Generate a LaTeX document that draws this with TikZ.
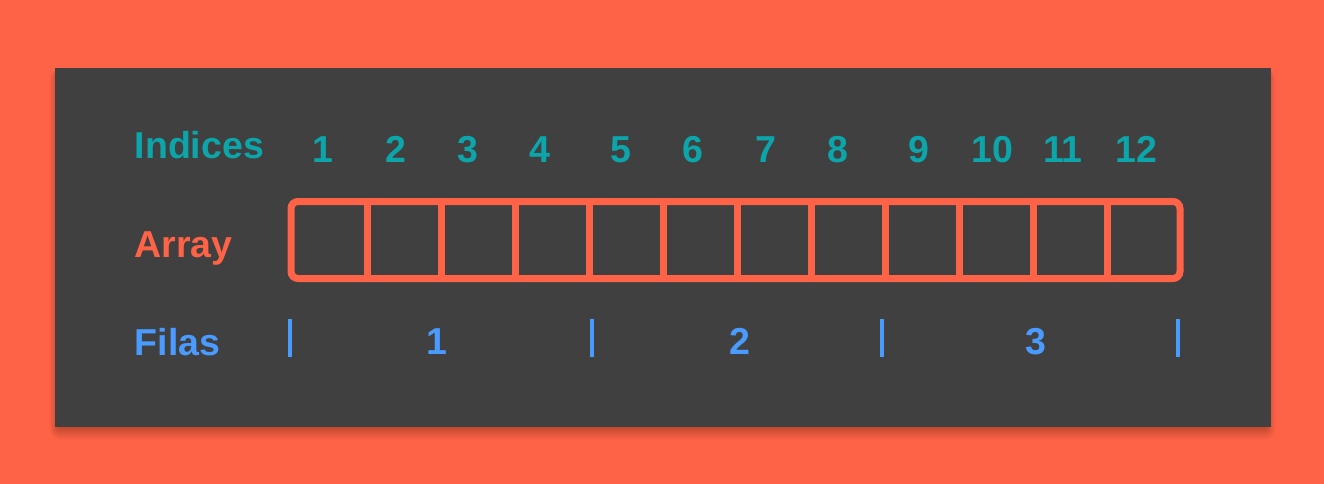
\documentclass[tikz,border=0pt]{standalone}
\usepackage{fontspec}
\setmainfont{Liberation Sans}
\definecolor{bgorange}{RGB}{255,99,71}
\definecolor{panel}{RGB}{64,64,64}
\definecolor{teal}{RGB}{11,165,170}
\definecolor{fblue}{RGB}{74,155,255}
\begin{document}
\begin{tikzpicture}[x=1pt,y=-1pt,
  lbl/.style={font=\fontsize{37.5}{44}\selectfont\bfseries, inner sep=0pt, anchor=base},
  idx/.style={lbl, text=teal},
  fil/.style={lbl, text=fblue},
  tick/.style={draw=fblue, line width=4pt},
  cellline/.style={draw=bgorange, line width=7pt}]
\useasboundingbox (0,0) rectangle (1324,484);
\fill[bgorange] (0,0) rectangle (1324,484);
% soft shadow
\foreach \i in {1,...,12}{
  \fill[black, opacity=0.018, rounded corners=\i pt] (55+4-\i*0.8,68+6-\i*0.5) rectangle (1270-4+\i*0.8,427+\i*1.1);
}
\fill[panel] (55,68) rectangle (1270.5,427);
% row labels
\node[lbl, text=teal, anchor=base west] (lidx) at (134.5,158) {Indices};
\node[lbl, text=bgorange, anchor=base west] (larr) at (134.5,257) {Array};
\node[lbl, text=fblue, anchor=base west] (lfil) at (134.5,355) {Filas};
% index numbers
\foreach \n/\x in {1/323,2/396,3/468,4/540,5/621,6/693,7/766,8/838,9/919,10/992,11/1063,12/1136}{
  \node[idx] (i\n) at (\x,162) {\n};
}
% array
\draw[cellline, rounded corners=7pt] (291,201.5) rectangle (1180,278.5);
\foreach \k in {0,...,10}{
  \draw[cellline] (367+74*\k,201.5) -- (367+74*\k,278.5);
}
% filas ticks
\foreach \t/\x in {a/290,b/592,c/882,d/1178}{
  \coordinate (t\t1) at (\x,319);
  \coordinate (t\t2) at (\x,357);
  \draw[tick] (t\t1) -- (t\t2);
}
\node[fil] (f1) at (437,354) {1};
\node[fil] (f2) at (740,354) {2};
\node[fil] (f3) at (1036,354) {3};
\end{tikzpicture}
\end{document}
